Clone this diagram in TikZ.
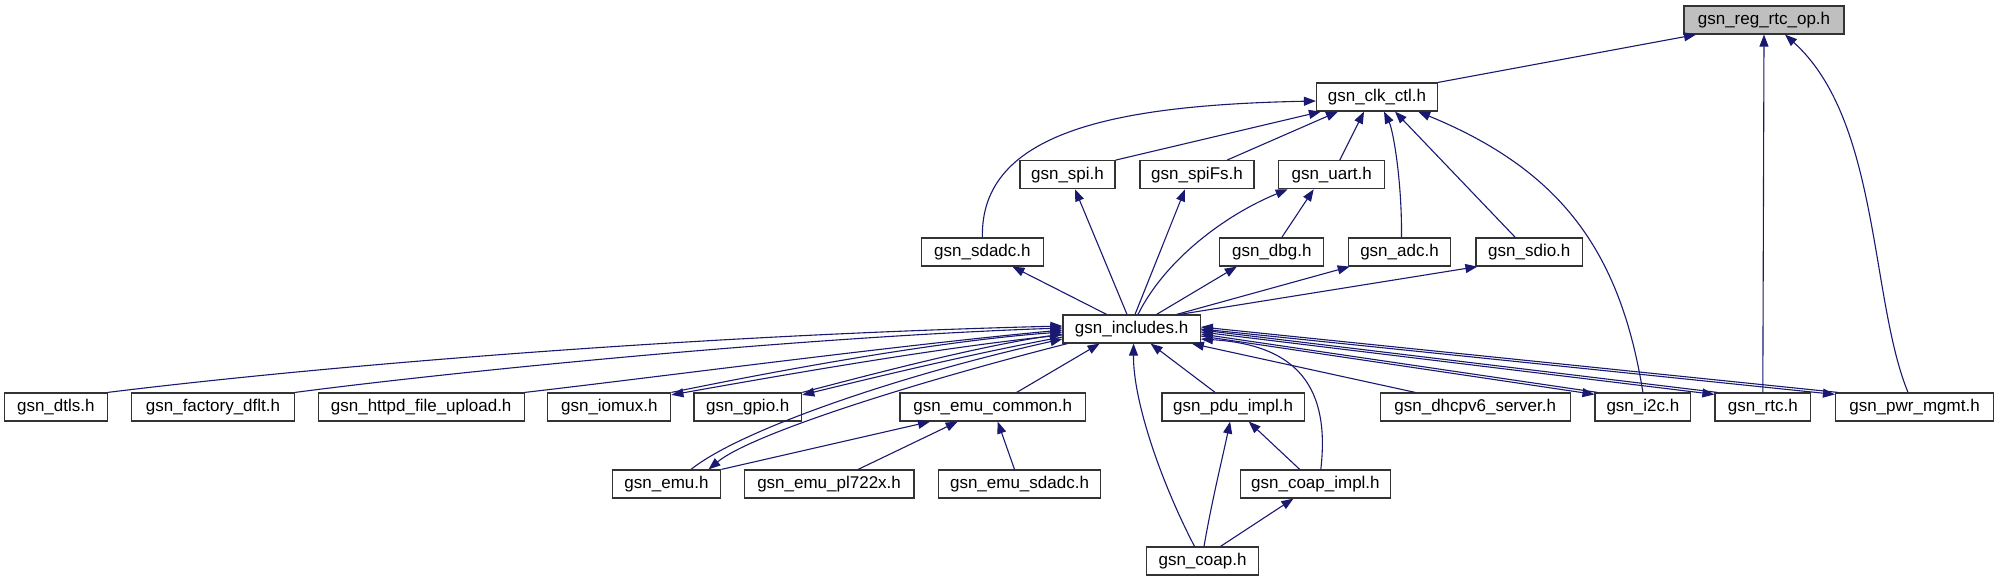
\documentclass[tikz,border=0pt]{standalone}
\usepackage{fontspec}
\setmainfont{Liberation Sans}
\usetikzlibrary{arrows.meta}
\definecolor{navyedge}{RGB}{25,25,112}
\definecolor{rootfill}{RGB}{191,191,191}
\begin{document}
\begin{tikzpicture}[x=1pt,y=-1pt,
  box/.style={draw=black!80, line width=1.2pt, fill=white, minimum height=28pt,
    inner sep=0pt, font=\fontsize{17}{20}\selectfont},
  edge/.style={draw=navyedge, line width=1.1pt, -{Triangle[length=12pt,width=9pt]}}]
\useasboundingbox[fill=white] (0,0) rectangle (2001,581);
% nodes
\node[box, fill=rootfill, minimum width=160pt] (reg) at (1764,20) {gsn\_reg\_rtc\_op.h};
\node[box, minimum width=121pt] (clk) at (1377,97) {gsn\_clk\_ctl.h};
\node[box, minimum width=95pt] (spi) at (1067.5,174.7) {gsn\_spi.h};
\node[box, minimum width=114pt] (spifs) at (1197,174.7) {gsn\_spiFs.h};
\node[box, minimum width=106pt] (uart) at (1331.7,174.7) {gsn\_uart.h};
\node[box, minimum width=121.4pt] (sdadc) at (982.4,252) {gsn\_sdadc.h};
\node[box, minimum width=104pt] (dbg) at (1271.8,252) {gsn\_dbg.h};
\node[box, minimum width=102.4pt] (adc) at (1399.5,252) {gsn\_adc.h};
\node[box, minimum width=106.6pt] (sdio) at (1529.3,252) {gsn\_sdio.h};
\node[box, minimum width=137.3pt] (inc) at (1131.6,329) {gsn\_includes.h};
\node[box, minimum width=102.6pt] (dtls) at (55.8,407) {gsn\_dtls.h};
\node[box, minimum width=163.2pt] (factory) at (213,407) {gsn\_factory\_dflt.h};
\node[box, minimum width=206pt] (httpd) at (421.2,407) {gsn\_httpd\_file\_upload.h};
\node[box, minimum width=123pt] (iomux) at (609.3,407) {gsn\_iomux.h};
\node[box, minimum width=107.8pt] (gpio) at (747.8,407) {gsn\_gpio.h};
\node[box, minimum width=185.6pt] (emucommon) at (992.7,407) {gsn\_emu\_common.h};
\node[box, minimum width=142.2pt] (pdu) at (1233.1,407) {gsn\_pdu\_impl.h};
\node[box, minimum width=190pt] (dhcp) at (1475.2,407) {gsn\_dhcpv6\_server.h};
\node[box, minimum width=95.7pt] (i2c) at (1642.9,407) {gsn\_i2c.h};
\node[box, minimum width=95.7pt] (rtc) at (1762.8,407) {gsn\_rtc.h};
\node[box, minimum width=158pt] (pwr) at (1914.5,407) {gsn\_pwr\_mgmt.h};
\node[box, minimum width=108.5pt] (emu) at (666.5,484) {gsn\_emu.h};
\node[box, minimum width=169.6pt] (pl722x) at (829.1,484) {gsn\_emu\_pl722x.h};
\node[box, minimum width=162.7pt] (emusdadc) at (1019.5,484) {gsn\_emu\_sdadc.h};
\node[box, minimum width=150pt] (coapimpl) at (1315.4,484) {gsn\_coap\_impl.h};
\node[box, minimum width=111.6pt] (coap) at (1202.5,561) {gsn\_coap.h};
% edges to root
\draw[edge] (clk.north east) -- ([xshift=-68pt]reg.south);
\draw[edge] (rtc.north) -- (reg.south);
\draw[edge] ([xshift=-6.5pt]pwr.north) .. controls (1870,300) and (1880,120) .. ([xshift=21pt]reg.south);
% edges to clk
\draw[edge] (sdadc.north) .. controls (980,130) and (1120,105) .. ([yshift=-4pt]clk.west);
\draw[edge] (spi.north east) -- ([xshift=5pt]clk.south west);
\draw[edge] ([xshift=30pt]spifs.north) -- ([xshift=-39pt]clk.south);
\draw[edge] ([xshift=8pt]uart.north) -- ([xshift=-13pt]clk.south);
\draw[edge] ([xshift=2pt]adc.north) .. controls (1402,180) and (1393,130) .. ([xshift=7pt]clk.south);
\draw[edge] ([xshift=-14pt]sdio.north) -- ([xshift=18pt]clk.south);
\draw[edge] (i2c.north) .. controls (1620,250) and (1560,170) .. ([xshift=-20pt]clk.south east);
% includes upward
\draw[edge] ([xshift=-4.6pt]inc.north) -- ([xshift=7.5pt]spi.south);
\draw[edge] ([xshift=3.4pt]inc.north) -- ([xshift=-12pt]spifs.south);
\draw[edge] ([xshift=6.4pt]inc.north) .. controls (1165,260) and (1225,215) .. ([xshift=-44pt]uart.south);
\draw[edge] ([xshift=10pt]dbg.north) -- ([xshift=-18pt]uart.south);
\draw[edge] ([xshift=-25pt]inc.north) -- ([xshift=30pt]sdadc.south);
\draw[edge] ([xshift=25pt]inc.north) -- ([xshift=-35pt]dbg.south);
\draw[edge] ([xshift=45pt]inc.north) -- ([xshift=2pt]adc.south west);
\draw[edge] ([xshift=48pt]inc.north) -- ([xshift=2pt]sdio.south west);
% left side into includes
\draw[edge] (dtls.north east) .. controls (330,365) and (700,335) .. ([yshift=3pt]inc.west);
\draw[edge] (factory.north east) .. controls (450,372) and (800,337) .. ([yshift=1pt]inc.west);
\draw[edge] (httpd.north east) .. controls (650,378) and (900,345) .. ([yshift=-1pt]inc.west);
\draw[edge] (iomux.north east) .. controls (800,366) and (950,340) .. ([yshift=-3pt]inc.west);
\draw[edge] ([yshift=-6pt]inc.west) .. controls (950,346) and (800,372) .. ([yshift=-2.5pt]iomux.north east);
\draw[edge] (gpio.north east) .. controls (880,372) and (980,346) .. ([yshift=-5pt]inc.west);
\draw[edge] ([yshift=-8pt]inc.west) .. controls (980,352) and (880,376) .. ([yshift=-2.5pt]gpio.north east);
\draw[edge] ([xshift=24.5pt]emu.north) .. controls (740,430) and (900,375) .. ([yshift=-10pt]inc.west);
\draw[edge] ([xshift=5pt]inc.south west) .. controls (905,385) and (750,435) .. ([xshift=42pt]emu.north);
% emu_common
\draw[edge] (emu.north east) -- ([xshift=-62.7pt]emucommon.south);
\draw[edge] ([xshift=29pt]pl722x.north) -- ([xshift=-35pt]emucommon.south);
\draw[edge] ([xshift=-5pt]emusdadc.north) -- ([xshift=5pt]emucommon.south);
\draw[edge] ([xshift=24pt]emucommon.north) -- ([xshift=-32pt]inc.south);
% pdu / coap
\draw[edge] ([xshift=-18pt]pdu.north) -- ([xshift=19pt]inc.south);
\draw[edge] ([xshift=-8pt]coap.north) .. controls (1160,480) and (1133,400) .. ([xshift=2pt]inc.south);
\draw[edge] ([xshift=1.5pt]coap.north) .. controls (1212,500) and (1222,460) .. ([xshift=-3pt]pdu.south);
\draw[edge] ([xshift=-15.7pt]coapimpl.north) -- ([xshift=15.6pt]pdu.south);
\draw[edge] ([xshift=18pt]coap.north) -- ([xshift=-22pt]coapimpl.south);
\draw[edge] ([xshift=5.4pt]coapimpl.north) .. controls (1330,390) and (1300,345) .. ([yshift=-10pt]inc.east);
\draw[edge] ([xshift=-60pt]dhcp.north) -- ([xshift=-9pt]inc.south east);
% right side pairs
\draw[edge] ([xshift=3pt]pwr.north west) -- ([yshift=2pt]inc.east);
\draw[edge] ([yshift=0pt]inc.east) -- ([yshift=-2pt]pwr.north west);
\draw[edge] ([xshift=3pt]rtc.north west) -- ([yshift=-1pt]inc.east);
\draw[edge] ([yshift=-3pt]inc.east) -- ([yshift=-2pt]rtc.north west);
\draw[edge] ([xshift=3pt]i2c.north west) -- ([yshift=-5pt]inc.east);
\draw[edge] ([yshift=-7pt]inc.east) -- ([yshift=-2pt]i2c.north west);
\end{tikzpicture}
\end{document}
